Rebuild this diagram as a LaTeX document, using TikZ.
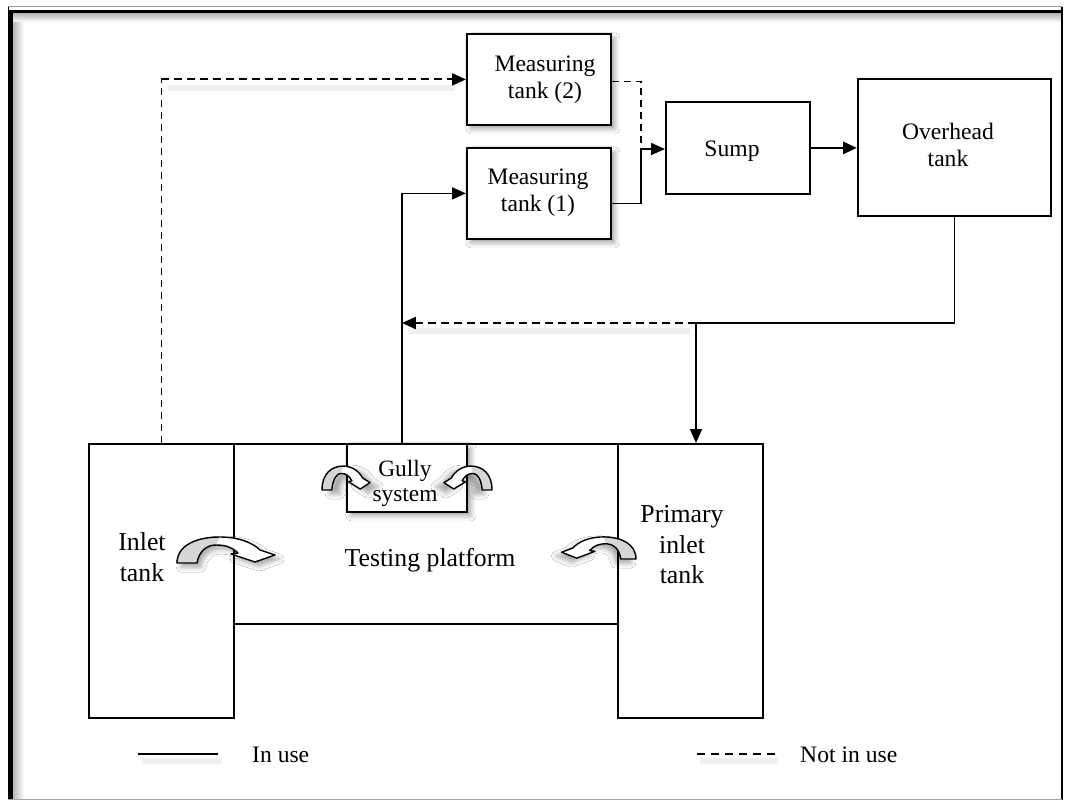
\documentclass[tikz,border=0pt]{standalone}
\usepackage{fontspec}
\setmainfont{Liberation Serif}
\usetikzlibrary{arrows.meta,shadows.blur}
\begin{document}
\begin{tikzpicture}[x=1pt,y=-1pt,
  box/.style={draw, line width=1.8pt, anchor=north west, inner sep=0pt, fill=white},
  lbl/.style={align=center, font=\fontsize{23.6}{27}\selectfont, inner sep=0pt},
  biglbl/.style={align=center, font=\fontsize{25.8}{30.5}\selectfont, inner sep=0pt},
  inuse/.style={line width=1.8pt},
  notuse/.style={line width=2pt, dash pattern=on 8pt off 5pt},
  notusethin/.style={line width=1.4pt, dash pattern=on 7pt off 5pt},
  arr/.style={-{Triangle[length=14pt,width=12pt]}},
  soft/.style={blur shadow={shadow xshift=#1, shadow yshift=-4pt, shadow blur radius=5pt, shadow opacity=35}},
  soft/.default=4pt,
  shband/.style={black!6, line width=6pt},
  curvarr/.pic={
    \path[soft=#1, fill=white] (0,0) .. controls (0,-18) and (20,-26) .. (43,-26) .. controls (62,-26) and (76,-20) .. (83,-13) -- (98,-8) -- (78,-1) -- (54,-9) -- (61,-10) .. controls (55,-16) and (48,-18) .. (39,-18) .. controls (30,-18) and (22,-12) .. (20,0) -- cycle;
    \fill[black!16] (0,0) .. controls (0,-18) and (20,-26) .. (43,-26) -- (39,-18) .. controls (30,-18) and (22,-12) .. (20,0) -- cycle;
    \draw[line width=1.4pt, line join=round] (0,0) .. controls (0,-18) and (20,-26) .. (43,-26) .. controls (62,-26) and (76,-20) .. (83,-13) -- (98,-8) -- (78,-1) -- (54,-9) -- (61,-10) .. controls (55,-16) and (48,-18) .. (39,-18) .. controls (30,-18) and (22,-12) .. (20,0) -- cycle;
  },
]
\useasboundingbox (0,0) rectangle (1065,800);
\fill[white] (0,0) rectangle (1065,800);

% frame
\shade[left color=black!30, right color=white] (12.5,13) rectangle (24,798);
\shade[top color=black!30, bottom color=white] (12.5,13) rectangle (1061,22);
\draw[black!40, line width=1pt] (8,7) -- (1062,7);
\draw[black, line width=1pt] (8,7) -- (8,800);
\draw[black, line width=3.2pt] (11,800) -- (11,11.5) -- (1062,11.5);
\draw[black, line width=1.6pt] (1062,7) -- (1062,800);
\draw[black!35, line width=1pt] (8,799) -- (1062,799);

% line shadows
\draw[shband] (168,88) -- (455,88);
\draw[shband] (408,331) -- (690,331);
\draw[shband] (142,761) -- (222,761);
\draw[shband] (700,761) -- (778,761);

% boxes
\node[box, minimum width=384pt, minimum height=180pt] (plat) at (233,443) {};
\node[box, minimum width=145pt, minimum height=274pt] (inlet) at (88,443) {};
\node[box, minimum width=145pt, minimum height=274pt] (prim) at (617,443) {};
\node[box, soft, minimum width=120pt, minimum height=68pt] (gully) at (346,443) {};
\node[box, soft, minimum width=144pt, minimum height=91pt] (meas2) at (466,33) {};
\node[box, soft, minimum width=144pt, minimum height=91pt] (meas1) at (466,147) {};
\node[box, minimum width=144pt, minimum height=92pt] (sump) at (665,101) {};
\node[box, minimum width=193pt, minimum height=137pt] (over) at (857,78) {};

% labels
\node[lbl] (t-meas2) at (545,80) {Measuring\\tank (2)};
\node[lbl] (t-meas1) at (538,193) {Measuring\\tank (1)};
\node[lbl] (t-sump) at (732,151) {Sump};
\node[lbl] (t-over) at (948,145) {Overhead\\tank};
\node[biglbl] (t-inlet) at (142,557) {Inlet\\tank};
\node[biglbl] (t-plat) at (430,560) {Testing platform};
\node[biglbl] (t-prim) at (682,545) {Primary\\inlet\\tank};
\node[lbl, font=\fontsize{23.4}{25}\selectfont] (t-gully) at (405,483) {Gully\\system};

% curved arrows
\path (177,563) pic {curvarr=4pt};
\path (636,559) pic[xscale=-0.76, yscale=0.85] {curvarr=-5pt};
\path (322,490) pic[xscale=0.49, yscale=0.92] {curvarr=8pt};
\path (492,490) pic[xscale=-0.49, yscale=0.92] {curvarr=-8pt};

% connectors
\coordinate (c1) at (inlet.north |- meas2.west);
\draw[notusethin] (inlet.north) -- (c1);
\draw[notuse, arr] (c1) -- (meas2.west);

\coordinate (g) at ([xshift=-5pt]gully.north);
\draw[inuse, arr] (g) |- (meas1.west);

\coordinate (j1) at (641,149);
\draw[notusethin] ([yshift=-2pt]meas2.east) -| (j1);
\draw[inuse] ([yshift=-10pt]meas1.east) -| (j1);
\draw[inuse, arr] (j1) -- (j1 -| sump.west);

\draw[line width=2.8pt, arr] (sump.east) -- (sump.east -| over.west);

\coordinate (j2) at (696,323);
\draw[inuse] (over.south) |- (j2);
\draw[inuse, arr] (j2) -- (j2 |- prim.north);
\draw[notuse, arr] (j2) -- (j2 -| g);

% legend
\coordinate (l1a) at (138,754);
\coordinate (l1b) at (218,754);
\draw[line width=2.2pt] (l1a) -- (l1b);
\node[lbl, anchor=west] (leg1) at (252,755) {In use};
\coordinate (l2a) at (697,754);
\coordinate (l2b) at (777,754);
\draw[line width=1.6pt, dash pattern=on 8pt off 6pt] (l2a) -- (l2b);
\node[lbl, anchor=west] (leg2) at (800,755) {Not in use};
\end{tikzpicture}
\end{document}
